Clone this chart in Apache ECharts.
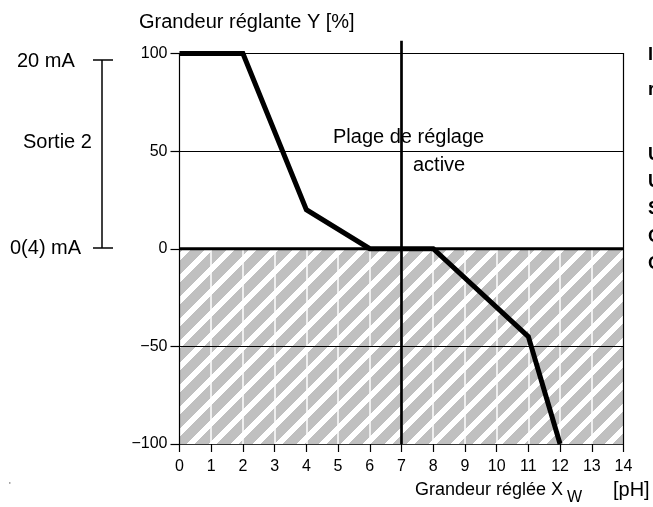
<!DOCTYPE html>
<html>
<head>
<meta charset="utf-8">
<script src="https://cdn.jsdelivr.net/npm/echarts@6/dist/echarts.min.js"></script>
<style>
  html, body { margin: 0; padding: 0; background: #fff; }
  #chart { width: 653px; height: 507px; }
</style>
</head>
<body>
<div id="chart"></div>
<script>
// Controller characteristic: setpoint X_W (pH) against output Y (%)
const phValues = [0, 2, 4, 6, 8, 11, 12];
const outputValues = [100, 100, 20, 0, 0, -45, -100];

// Axis ranges and tick spacing
const xRange = [0, 14];
const xStep = 1;
const yRange = [-100, 100];
const yStep = 50;

// Inactive band (negative output) and the setpoint marker
const inactiveBand = [-100, 0];
const setpoint = 7;
const setpointTop = 106.5;

// Texts
const yTitle = 'Grandeur réglante Y [%]';
const xTitleMain = 'Grandeur réglée X';
const xTitleSub = 'W';
const xTitleUnit = '[pH]';
const bandLabel = ['Plage de réglage', 'active'];
const outputLabels = ['20 mA', 'Sortie 2', '0(4) mA'];
const sideLetters = ['I', 'r', 'U', 'U', 'S', 'C', 'C'];

const FONT = "'Liberation Sans', Arial, Helvetica, sans-serif";

// Diagonal hatch tile (45°, grey on white)
function hatchTile() {
  const p = 22, g = 13.5;
  const c = document.createElement('canvas');
  c.width = p; c.height = p;
  const ctx = c.getContext('2d');
  ctx.fillStyle = '#ffffff';
  ctx.fillRect(0, 0, p, p);
  ctx.fillStyle = '#c0c0c0';
  for (let y = 0; y < p; y++) {
    for (let x = 0; x < p; x++) {
      if (((x + y) % p) < g) ctx.fillRect(x, y, 1, 1);
    }
  }
  return c;
}

const chart = echarts.init(document.getElementById('chart'), null, { renderer: 'canvas' });

const curve = phValues.map((x, i) => [x, outputValues[i]]);
const fmtNum = v => (v < 0 ? '\u2212' + Math.abs(v) : String(v));

const textStyle = (extra) => Object.assign({
  font: '20px ' + FONT, fill: '#000', textVerticalAlign: 'middle', verticalAlign: 'middle'
}, extra);

const label = (style) => ({ type: 'text', z: 5, silent: true, style: textStyle(style) });

const option = {
  animation: false,
  backgroundColor: '#fff',
  grid: { left: 179.5, top: 53.5, width: 444, height: 390.5, containLabel: false },
  xAxis: [
    {
      type: 'value', min: xRange[0], max: xRange[1], interval: xStep, z: 3,
      axisLine: { show: true, onZero: false, lineStyle: { color: '#333', width: 1.2 } },
      axisTick: { show: true, length: 8, lineStyle: { color: '#000', width: 1.2 } },
      axisLabel: { color: '#000', fontSize: 16, fontFamily: FONT, margin: 15 },
      splitLine: { show: true, showMinLine: false, showMaxLine: false, lineStyle: { color: '#fff', width: 1.5 } }
    },
    {
      type: 'value', position: 'top', min: xRange[0], max: xRange[1], z: 3,
      axisLine: { show: true, onZero: false, lineStyle: { color: '#000', width: 1.2 } },
      axisTick: { show: false }, axisLabel: { show: false }, splitLine: { show: false }
    }
  ],
  yAxis: [
    {
      type: 'value', min: yRange[0], max: yRange[1], interval: yStep, z: 4,
      axisLine: { show: true, onZero: false, lineStyle: { color: '#000', width: 1.2 } },
      axisTick: { show: true, length: 9, lineStyle: { color: '#000', width: 1.2 } },
      axisLabel: { color: '#000', fontSize: 16, fontFamily: FONT, margin: 12, formatter: fmtNum },
      splitLine: { show: true, showMinLine: false, showMaxLine: false, lineStyle: { color: '#000', width: 1 } }
    },
    {
      type: 'value', position: 'right', min: yRange[0], max: yRange[1], z: 4,
      axisLine: { show: true, onZero: false, lineStyle: { color: '#000', width: 1.2 } },
      axisTick: { show: false }, axisLabel: { show: false }, splitLine: { show: false }
    }
  ],
  series: [
    {
      // hatched inactive band
      type: 'line', data: [], z: 1, silent: true,
      markArea: {
        silent: true,
        itemStyle: { color: { image: hatchTile(), repeat: 'repeat' } },
        data: [[{ xAxis: xRange[0], yAxis: inactiveBand[0] }, { xAxis: xRange[1], yAxis: inactiveBand[1] }]]
      }
    },
    {
      // zero reference line
      type: 'line', z: 6, silent: true, symbol: 'none',
      lineStyle: { color: '#000', width: 3 },
      data: [[xRange[0], 0], [xRange[1], 0]]
    },
    {
      // setpoint marker
      type: 'line', z: 7, silent: true, symbol: 'none', clip: false,
      lineStyle: { color: '#000', width: 2.7 },
      data: [[setpoint, yRange[0]], [setpoint, setpointTop]]
    },
    {
      // controller characteristic
      type: 'line', z: 8, silent: true, symbol: 'none', clip: false,
      lineStyle: { color: '#000', width: 5, join: 'miter', cap: 'butt' },
      data: curve
    }
  ],
  graphic: [
    { type: 'text', left: 139, top: 12, z: 5, style: { text: yTitle, font: '20px ' + FONT, fill: '#000' } },
    label({ text: bandLabel[0], x: 333, y: 137 }),
    label({ text: bandLabel[1], x: 413, y: 165 }),
    label({ text: outputLabels[0], x: 17, y: 61 }),
    label({ text: outputLabels[1], x: 23, y: 142 }),
    label({ text: outputLabels[2], x: 10, y: 248 }),
    { type: 'line', z: 5, shape: { x1: 102, y1: 60, x2: 102, y2: 248 }, style: { stroke: '#000', lineWidth: 1.5 } },
    { type: 'line', z: 5, shape: { x1: 93, y1: 60, x2: 113, y2: 60 }, style: { stroke: '#000', lineWidth: 1.5 } },
    { type: 'line', z: 5, shape: { x1: 93, y1: 248, x2: 113, y2: 248 }, style: { stroke: '#000', lineWidth: 1.5 } },
    label({ text: xTitleMain, x: 563, y: 490, font: '18px ' + FONT, textAlign: 'right', align: 'right' }),
    label({ text: xTitleSub, x: 567, y: 498, font: '16px ' + FONT }),
    label({ text: xTitleUnit, x: 613, y: 490, font: '20px ' + FONT }),
    label({ text: "'", x: 9, y: 486, font: '9px ' + FONT, fill: '#555' })
  ].concat(sideLetters.map((ch, i) =>
    label({ text: ch, x: 648, y: [55, 90, 155, 182, 209, 237, 264][i], font: 'bold 18px ' + FONT })
  ))
};

chart.setOption(option);
</script>
</body>
</html>
